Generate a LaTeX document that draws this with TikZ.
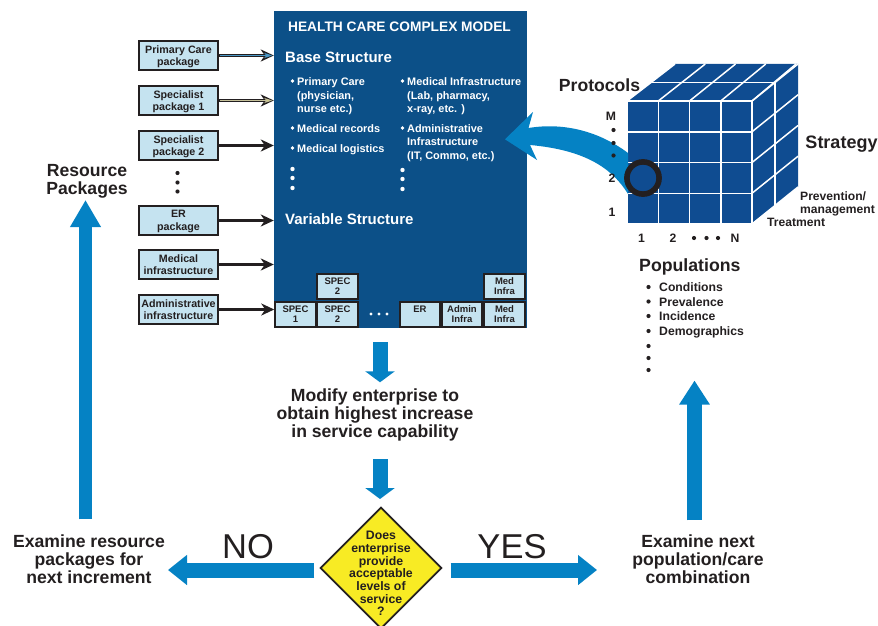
\documentclass[tikz,border=0pt]{standalone}
\usepackage{fontspec}
\setmainfont{Liberation Sans}
\usetikzlibrary{arrows.meta,shapes.geometric,calc}
\definecolor{inkc}{HTML}{231F20}
\definecolor{mainblue}{HTML}{0C5088}
\definecolor{cubeblue}{HTML}{0F4C91}
\definecolor{arrowblue}{HTML}{0582C4}
\definecolor{lightbox}{HTML}{C5E3F0}
\definecolor{diayellow}{HTML}{F8EB24}
\definecolor{coreblue}{HTML}{4A96C4}
\definecolor{coretan}{HTML}{C4BF98}
\newcommand{\fsz}[2]{\fontsize{#1}{#2}\selectfont\bfseries}
\tikzset{
  pkgbox/.style={draw=inkc,fill=lightbox,line width=2.2pt,minimum width=79pt,minimum height=29pt,inner sep=0pt,align=center,text=inkc,text depth=-1pt,font=\fsz{10.7}{11.5}},
  slotbox/.style={draw=inkc,fill=lightbox,line width=2pt,minimum width=40.5pt,minimum height=25.5pt,inner sep=0pt,align=center,text=inkc,font=\fsz{9.5}{10}},
  feed/.style={draw=inkc,line width=2.5pt,-{Stealth[length=13pt,width=12pt,inset=4pt]}},
  blockarrow/.style={draw=arrowblue,line width=15pt,-{Triangle[length=#1,width=29pt]}},
  blockarrow/.default=11pt,
  wtext/.style={text=white,inner sep=0pt,anchor=west,align=left,font=\fsz{10.9}{13.4}},
  wdot/.style={circle,fill=white,inner sep=0pt,minimum size=4.4pt},
  kdot/.style={circle,fill=inkc,inner sep=0pt,minimum size=4.2pt},
  btext/.style={text=inkc,inner sep=0pt,align=center,font=\fsz{17.6}{18}},
  ktext/.style={text=inkc,inner sep=0pt,align=left,font=\fsz{12.2}{13.2}},
  answer/.style={text=inkc,inner sep=0pt,font=\fontsize{34.5}{36}\selectfont},
}
\begin{document}
\begin{tikzpicture}[x=1pt,y=-1pt]
\useasboundingbox (0,0) rectangle (878,626);

% central model
\node[fill=mainblue,minimum width=253pt,minimum height=317pt,inner sep=0pt] (main) at (400.5,169.5) {};
\node[text=white,inner sep=0pt,font=\fsz{13.75}{15}] (title) at (399.5,26.5) {HEALTH CARE COMPLEX MODEL};
\node[text=white,inner sep=0pt,anchor=west,font=\fsz{15}{17}] (base) at (285,57) {Base Structure};
\node[text=white,inner sep=0pt,anchor=west,font=\fsz{15}{17}] (variable) at (285,219) {Variable Structure};

\node[wdot,minimum size=3.8pt] (b1) at (292.5,81) {};
\node[wtext] (t1) at (297,96.2) {Primary Care\\(physician,\\nurse etc.)};
\node[wdot,minimum size=3.8pt] (b2) at (292.5,128) {};
\node[wtext] (t2) at (297,129) {Medical records};
\node[wdot,minimum size=3.8pt] (b3) at (292.5,148) {};
\node[wtext] (t3) at (297,149.5) {Medical logistics};
\foreach \n/\y in {l1/169,l2/178,l3/188} \node[wdot] (\n) at (292.5,\y) {};
\node[wdot,minimum size=3.8pt] (b4) at (402.5,81) {};
\node[wtext] (t4) at (407,96.2) {Medical Infrastructure\\(Lab, pharmacy,\\x-ray, etc. )};
\node[wdot,minimum size=3.8pt] (b5) at (402.5,128) {};
\node[wtext] (t5) at (407,143) {Administrative\\Infrastructure\\(IT, Commo, etc.)};
\foreach \n/\y in {r1/170,r2/179,r3/189} \node[wdot] (\n) at (402.5,\y) {};

% variable structure slots
\node[slotbox] (s1) at (295.5,314.5) {SPEC\\1};
\node[slotbox] (s2) at (337.5,314.5) {SPEC\\2};
\node[slotbox] (s2t) at (337.5,286.5) {SPEC\\2};
\node[slotbox] (er) at (420,314.5) {ER\\\phantom{1}};
\node[slotbox] (adm) at (462,314.5) {Admin\\Infra};
\node[slotbox] (med) at (504.5,314.5) {Med\\Infra};
\node[slotbox] (medt) at (504.5,286.5) {Med\\Infra};
\foreach \n/\x in {m1/371,m2/379,m3/387} \node[wdot,minimum size=3.2pt] (\n) at (\x,314) {};

% packages
\node[pkgbox] (p1) at (178.5,55.5) {Primary Care\\package};
\node[pkgbox] (p2) at (178.5,100.5) {Specialist\\package 1};
\node[pkgbox] (p3) at (178.5,145.5) {Specialist\\package 2};
\node[pkgbox] (p4) at (178.5,220.5) {ER\\[1.5pt]package};
\node[pkgbox] (p5) at (178.5,264.5) {Medical\\infrastructure};
\node[pkgbox] (p6) at (178.5,309.5) {Administrative\\infrastructure};
\foreach \n/\y in {d1/173,d2/182.5,d3/191.5} \node[kdot] (\n) at (177.5,\y) {};

\draw[feed] (p1.east) -- (p1.east -| main.west);
\draw[line width=.9pt,draw=coreblue,shorten <=1pt,shorten >=1.5pt,-{Stealth[length=8pt,width=5pt,inset=2pt,fill=coreblue]}] (p1.east) -- (p1.east -| main.west);
\draw[feed] (p2.east) -- (p2.east -| main.west);
\draw[line width=.9pt,draw=coretan,shorten <=1pt,shorten >=1.5pt,-{Stealth[length=8pt,width=5pt,inset=2pt,fill=coretan!70!yellow]}] (p2.east) -- (p2.east -| main.west);
\draw[feed] (p3.east) -- (p3.east -| main.west);
\draw[feed] (p4.east) -- (p4.east -| main.west);
\draw[feed] (p5.east) -- (p5.east -| main.west);
\draw[feed] (p6.east) -- (p6.east -| s1.west);

% cube
\fill[cubeblue] (627,101) -- (675,64) -- (798,64) -- (798,187) -- (752,224) -- (627,224) -- cycle;
\begin{scope}[draw=white,line width=1.5pt]
  \foreach \t in {0,1,2,3,4} {
    \draw ({627+31.25*\t},101) -- ({627+31.25*\t},224);
    \draw (627,{101+30.75*\t}) -- (752,{101+30.75*\t});
    \draw ({627+31.25*\t},101) -- ({675-0.5*\t+30.75*\t},64);
    \draw (752,{101+30.75*\t}) -- (798,{64+30.75*\t});
  }
  \draw (651,82.5) -- (775,82.5) -- (775,205.5);
\end{scope}

% curved arrow from cube to the model
\fill[arrowblue] (505,139.3) -- (533,112) -- (528.5,128)
  .. controls (565,122) and (600,132) .. (628,153) -- (628,194)
  .. controls (612,168) and (585,150) .. (530,145)
  -- (537,160) -- cycle;
\node[draw=inkc,line width=5.6pt,circle,minimum size=32.2pt,inner sep=0pt] (ring) at (643,178) {};

% cube labels
\node[text=inkc,inner sep=0pt,font=\fsz{17.6}{18}] (protocols) at (599.5,85) {Protocols};
\node[text=inkc,inner sep=0pt,font=\fsz{18}{18}] (strategy) at (841.5,144.5) {Strategy};
\node[ktext,anchor=west,font=\fsz{12.1}{13}] (prev) at (800,203.5) {Prevention/\\management};
\node[ktext,anchor=west,font=\fsz{12.1}{13}] (treat) at (767,222.5) {Treatment};
\node[ktext] (m) at (611,116) {M};
\foreach \n/\y in {md1/130,md2/143,md3/155.5} \node[kdot] (\n) at (613.5,\y) {};
\node[ktext] (two) at (612,178) {2};
\node[ktext] (one) at (612,212) {1};
\node[ktext] (x1) at (641.5,238) {1};
\node[ktext] (x2) at (673,238) {2};
\foreach \n/\x in {xd1/694,xd2/706.5,xd3/718} \node[kdot] (\n) at (\x,238) {};
\node[ktext] (xn) at (735,238) {N};
\node[text=inkc,inner sep=0pt,anchor=west,font=\fsz{17.7}{18}] (populations) at (639,266.5) {Populations};
\foreach \n/\y in {pb1/287,pb2/301.5,pb3/316,pb4/331,pb5/346,pb6/358,pb7/370} \node[kdot] (\n) at (648.5,\y) {};
\node[ktext,anchor=west] (c1) at (659,287) {Conditions};
\node[ktext,anchor=west] (c2) at (659,302) {Prevalence};
\node[ktext,anchor=west] (c3) at (659,316) {Incidence};
\node[ktext,anchor=west] (c4) at (659,332.5) {Demographics};

% flow
\node[btext] (modify) at (375,415) {Modify enterprise to\\obtain highest increase\\in service capability};
\node[draw=inkc,fill=diayellow,line width=1.8pt,diamond,minimum width=121.5pt,minimum height=121.5pt,inner sep=0pt] (dec) at (381,568) {};
\node[text=inkc,inner sep=0pt,align=center,font=\fsz{12.3}{12.7}] (dectext) at (381,573.5) {Does\\enterprise\\provide\\acceptable\\levels of\\service\\?};
\node[btext] (exres) at (89,559) {Examine resource\\packages for\\next increment};
\node[btext] (exnext) at (698,559) {Examine next\\population/care\\combination};
\node[btext] (respk) at (87,181.5) {Resource\\Packages};
\node[answer] (no) at (248,547) {NO};
\node[answer] (yes) at (512,547) {YES};

% block arrow ends
\coordinate (downa) at (380,382.3);
\coordinate (downb) at (380,499);
\coordinate (noend) at (168,570);
\coordinate (yesend) at (597,570);
\coordinate (upleft) at (85.5,200);
\coordinate (upright) at (694.5,380.5);
\draw[blockarrow] ($(main.south)+(-20.5,14)$) -- (downa);
\draw[blockarrow] ($(modify.south)+(5,18)$) -- (downb);
\draw[blockarrow={19pt}] ($(dec.west)+(-5,2)$) -- (noend);
\draw[blockarrow={19pt}] ($(dec.east)+(8,2)$) -- (yesend);
\draw[blockarrow={27pt},line width=13.5pt] (upleft |- exres.north) ++(0,15pt) -- (upleft);
\draw[blockarrow={24pt}] (upright |- exnext.north) ++(0,14pt) -- (upright);
\end{tikzpicture}
\end{document}
